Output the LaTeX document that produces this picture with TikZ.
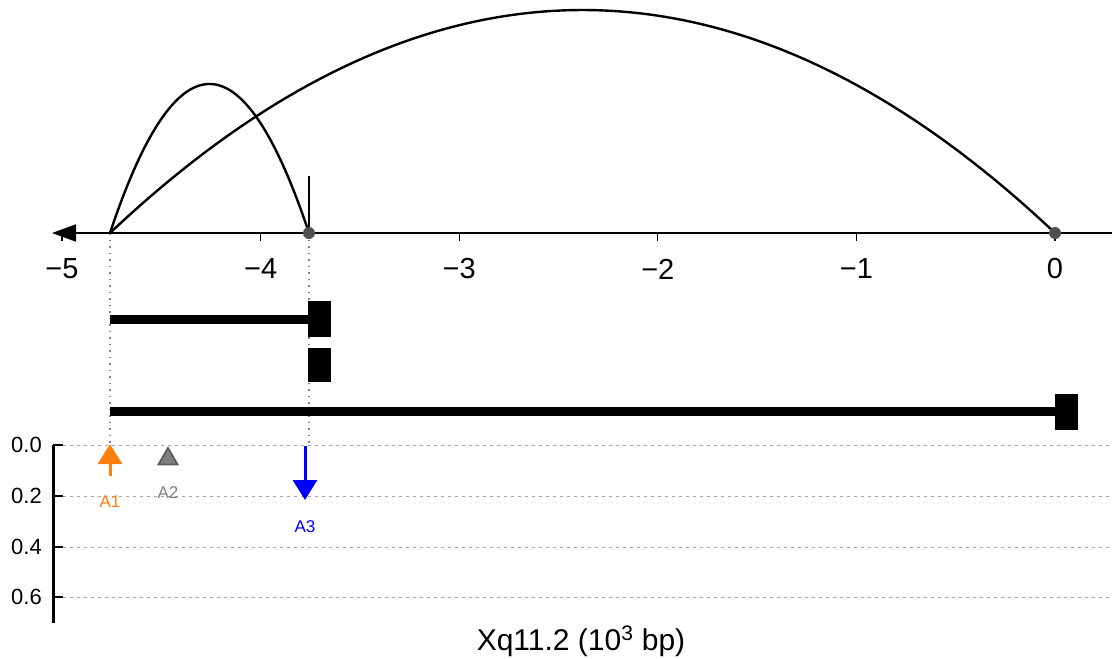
\documentclass[tikz,border=0pt]{standalone}
\usepackage{fontspec}
\setmainfont{Liberation Sans}
\usetikzlibrary{arrows.meta,shapes.geometric}
\definecolor{aorange}{HTML}{FF7F0E}
\definecolor{ablue}{HTML}{0000FF}
\definecolor{agray}{HTML}{808080}
\definecolor{dotgray}{HTML}{505050}
\begin{document}
\begin{tikzpicture}[x=1pt,y=-1pt,
  arcline/.style={line width=2.4pt},
  trackline/.style={line width=9pt},
  blockbox/.style={fill=black,draw=none},
  guide/.style={draw=agray,dash pattern=on 1.5pt off 5pt,line width=1.6pt},
  gridline/.style={draw=gray!70,dash pattern=on 3pt off 4pt,line width=0.9pt},
  ticklabel/.style={font=\fontsize{29}{29}\selectfont,inner sep=0pt},
  ylabel/.style={font=\fontsize{22}{22}\selectfont,inner sep=0pt,anchor=east},
  mlabel/.style={font=\fontsize{17}{17}\selectfont,inner sep=0pt}]
\useasboundingbox (0,0) rectangle (1112,659);
% key points
\coordinate (A) at (110,233);
\coordinate (B) at (309,233);
\coordinate (C) at (1055,233);
\coordinate (L) at (52,233);
\coordinate (R) at (1112,233);
\coordinate (Btop) at (309,176);
% grid of lower panel
\foreach \yy/\nm in {445/g0,496/g1,547/g2,597/g3}{
  \coordinate (\nm l) at (63,\yy);
  \coordinate (\nm r) at (1112,\yy);
  \draw[gridline] (\nm l) -- (\nm r);
}
% guides
\coordinate (Ad) at (110,447);
\coordinate (Bd) at (309,447);
\draw[guide] (A) -- (Ad);
\draw[guide] (B) -- (Bd);
% axis
\draw[line width=2pt,-{Triangle[length=24pt,width=17pt]}] (R) -- (L);
\foreach \i/\lab in {-5/−5,-4/−4,-3/−3,-2/−2,-1/−1,0/0}{
  \coordinate (t\i) at ({1055+198.6*\i},233);
  \coordinate (tb\i) at ({1055+198.6*\i},241);
  \draw[line width=1.3pt] (t\i) -- (tb\i);
  \node[ticklabel] (tl\i) at ({1055+198.6*\i},269) {\lab};
}
% arcs
\draw[arcline] (A) .. controls (176.3,34.3) and (242.7,34.3) .. (B);
\draw[arcline] (A) .. controls (425,-64.3) and (740,-64.3) .. (C);
\draw[line width=2.6pt] (Btop) -- (B);
\fill[dotgray] (B) circle (6);
\fill[dotgray] (C) circle (6);
% tracks
\coordinate (T1a) at (110,319);
\coordinate (T1b) at (309,319);
\draw[trackline] (T1a) -- (T1b);
\node[blockbox,minimum width=23pt,minimum height=36pt,inner sep=0pt] (K1) at (319.5,319) {};
\node[blockbox,minimum width=23pt,minimum height=34pt,inner sep=0pt] (K2) at (319.5,365) {};
\coordinate (T3a) at (110,411);
\coordinate (T3b) at (1056,411);
\draw[trackline] (T3a) -- (T3b);
\node[blockbox,minimum width=23pt,minimum height=36pt,inner sep=0pt] (K3) at (1066.5,412) {};
% y axis
\coordinate (Ya) at (53,445);
\coordinate (Yb) at (53,623);
\draw[line width=3pt] (Ya) -- (Yb);
\foreach \yy/\lab in {445/0.0,496/0.2,547/0.4,597/0.6}{
  \coordinate (yt\yy) at (53,\yy);
  \coordinate (ye\yy) at (63,\yy);
  \draw[line width=1.6pt] (yt\yy) -- (ye\yy);
  \node[ylabel] (yl\yy) at (42,\yy) {\lab};
}
% markers
\coordinate (A1s) at (110,476);
\coordinate (A1t) at (110,444);
\draw[aorange,line width=3pt,-{Triangle[length=20pt,width=24pt]}] (A1s) -- (A1t);
\node[mlabel,text=aorange] (A1) at (110,502) {A1};
\node[draw=agray!70!black,fill=agray,line width=1.8pt,regular polygon,regular polygon sides=3,minimum size=22pt,inner sep=0pt] (A2m) at (168,459) {};
\node[mlabel,text=agray] (A2) at (168,493) {A2};
\coordinate (A3s) at (305,446);
\coordinate (A3t) at (305,500);
\draw[ablue,line width=3pt,-{Triangle[length=20pt,width=24pt]}] (A3s) -- (A3t);
\node[mlabel,text=ablue] (A3) at (305,527) {A3};
% title
\node[font=\fontsize{30}{30}\selectfont,inner sep=0pt,anchor=base] (title) at (581,650) {Xq11.2 (10\textsuperscript{3} bp)};
\end{tikzpicture}
\end{document}
